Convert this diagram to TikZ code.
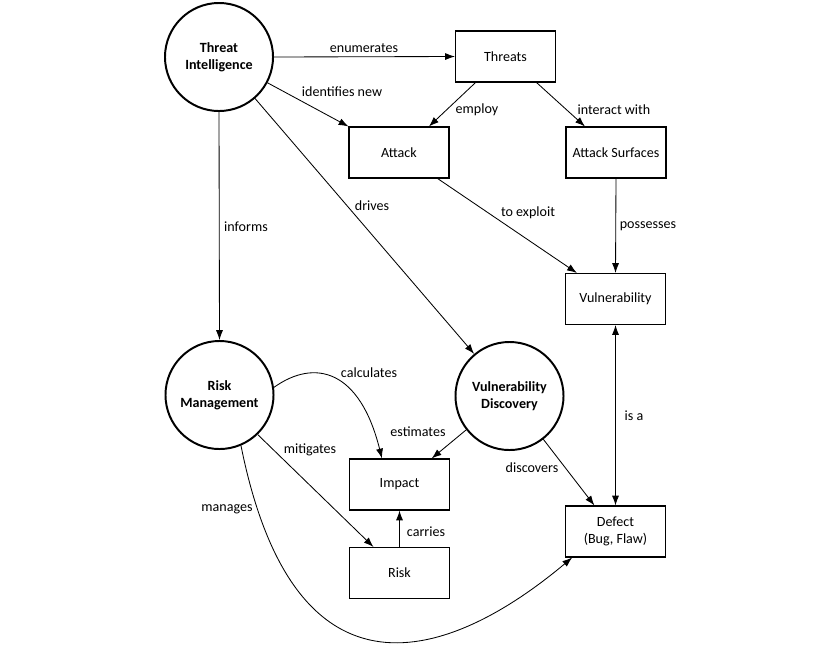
\documentclass[tikz,border=0pt]{standalone}
\usepackage{fontspec}
\setmainfont{Carlito}
\usetikzlibrary{arrows.meta}

\begin{document}
\begin{tikzpicture}[x=0.025cm,y=-0.025cm,
  font=\fontsize{10}{12}\selectfont,
  >={Latex[length=7pt,width=5pt]},
  topic/.style={circle,draw,line width=1.4pt,minimum size=2.7cm,align=center,
    font=\fontsize{10}{12}\selectfont\bfseries},
  item/.style={rectangle,draw,line width=0.75pt,minimum width=2.5cm,minimum height=1.275cm,align=center},
  rel/.style={draw,line width=0.6pt,->},
  tag/.style={inner sep=1pt}]
  \fill[white] (0,0) rectangle (840,646);
  \useasboundingbox (0,0) rectangle (840,646);
  \node[topic] (ti) at (219,57) {Threat\\Intelligence};
  \node[item] (threats) at (505.5,56.5) {Threats};
  \node[item] (attack) at (399,152.5) {Attack};
  \node[item] (surf) at (616,152.5) {Attack Surfaces};
  \node[item] (vuln) at (615.5,299) {Vulnerability};
  \node[topic] (rm) at (219.5,395) {Risk\\Management};
  \node[topic] (vd) at (509.5,396) {Vulnerability\\Discovery};
  \node[item] (impact) at (399.5,484.5) {Impact};
  \node[item] (risk) at (399.5,573) {Risk};
  \node[item] (defect) at (615.5,531.5) {Defect\\(Bug, Flaw)};
  \draw[rel] (ti.east) -- (threats.west) node[tag] at (364,48) {enumerates};
  \draw[rel] (ti.-28) -- (attack.north west) node[tag] at (342,92) {identifies new};
  \draw[rel] (threats.221) -- (attack.41) node[tag] at (477,110) {employ};
  \draw[rel] (threats.-40) -- (surf.140) node[tag] at (614,110) {interact with};
  \draw[rel] (ti.south) -- (rm.north) node[tag] at (246,227) {informs};
  \draw[rel] (ti.-49) -- (vd.130) node[tag] at (372,206) {drives};
  \draw[rel] (attack.-34) -- (vuln.146) node[tag] at (528,213) {to exploit};
  \draw[rel] (surf.south) -- (vuln.north) node[tag] at (648,226) {possesses};
  \draw[rel,<->] (vuln.south) -- (defect.north) node[tag] at (634,416) {is a};
  \draw[rel] (rm.8) .. controls (315,358) and (360,370) .. (impact.124) node[tag] at (369,373) {calculates};
  \draw[rel] (vd.218) -- (impact.39) node[tag] at (418,432) {estimates};
  \draw[rel] (vd.-52) -- (defect.129) node[tag] at (532,468) {discovers};
  \draw[rel] (rm.-46) -- (risk.135) node[tag] at (310,450) {mitigates};
  \draw[rel] (risk.north) -- (impact.south) node[tag] at (426,532) {carries};
  \draw[rel] (rm.-67) .. controls (295,715) and (450,660) .. (defect.211) node[tag] at (227,509) {manages};
\end{tikzpicture}
\end{document}
